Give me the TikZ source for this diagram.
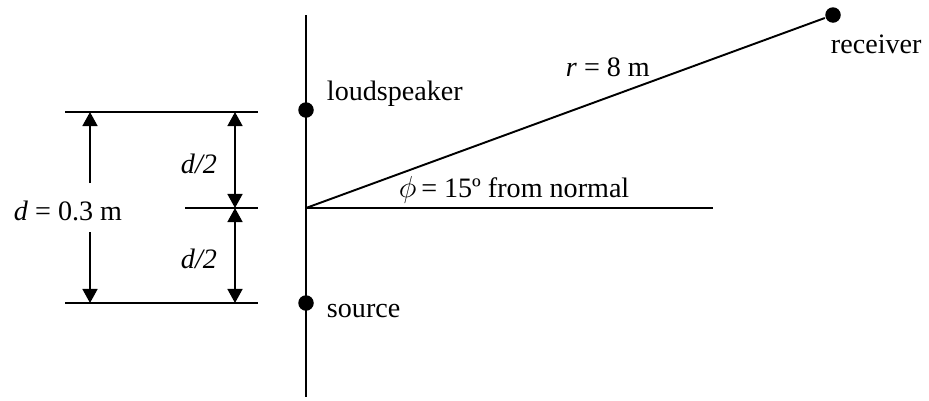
\documentclass[tikz,border=0pt]{standalone}
\usepackage{fontspec}
\setmainfont{Liberation Serif}
\usetikzlibrary{positioning, arrows.meta}

\begin{document}
\begin{tikzpicture}[
        x=0.02cm, y=-0.02cm,
        line width=1.1pt,
        dot/.style={circle, fill=black, inner sep=0pt, minimum size=0.31cm},
        dimline/.style={-{Triangle[length=8pt, width=8.5pt]}},
        dimboth/.style={{Triangle[length=8pt, width=8.5pt]}-{Triangle[length=8pt, width=8.5pt]}},
        lbl/.style={inner sep=0pt, anchor=base west, font=\fontsize{16}{19}\selectfont}
        ]
        \useasboundingbox (0,0) rectangle (929,400);

        % Wall and normal
        \coordinate (top) at (306,15);
        \coordinate (bot) at (306,397);
        \coordinate (O) at (306,208);
        \coordinate (nrm) at (713,208);
        \draw (top) -- (bot);
        \draw (O) -- (nrm);

        % Points
        \node[dot] (spk) at (306,110) {};
        \node[dot] (src) at (306,303) {};
        \node[dot] (rcv) at (833,15) {};
        \draw (O) -- (rcv);

        \node[lbl] (spkl) at (326,100) {loudspeaker};
        \node[lbl] (srcl) at (326,317) {source};
        \node[lbl] (rcvl) at (830,53) {receiver};
        \node[lbl] (rl) at (565,76) {\textit{r} = 8 m};
        \node[lbl] (phil) at (398,197) {$\phi$\,= 15º from normal};

        % Dimension lines
        \coordinate (t1) at (65,112);   \coordinate (t2) at (258,112);
        \coordinate (m1) at (185,208);  \coordinate (m2) at (258,208);
        \coordinate (b1) at (65,303);   \coordinate (b2) at (258,303);
        \draw (t1) -- (t2);
        \draw (m1) -- (m2);
        \draw (b1) -- (b2);

        \coordinate (dt) at (90,112);   \coordinate (dg1) at (90,183);
        \coordinate (db) at (90,303);   \coordinate (dg2) at (90,232);
        \draw[dimline] (dg1) -- (dt);
        \draw[dimline] (dg2) -- (db);
        \node[lbl] (dl) at (13,220) {\textit{d} = 0.3 m};

        \coordinate (ht) at (235,112);
        \coordinate (hm) at (235,208);
        \coordinate (hb) at (235,303);
        \draw[dimboth] (ht) -- (hm);
        \draw[dimboth] (hm) -- (hb);
        \node[lbl] (h1l) at (180,173) {\textit{d/2}};
        \node[lbl] (h2l) at (180,268) {\textit{d/2}};

    \end{tikzpicture}
\end{document}
